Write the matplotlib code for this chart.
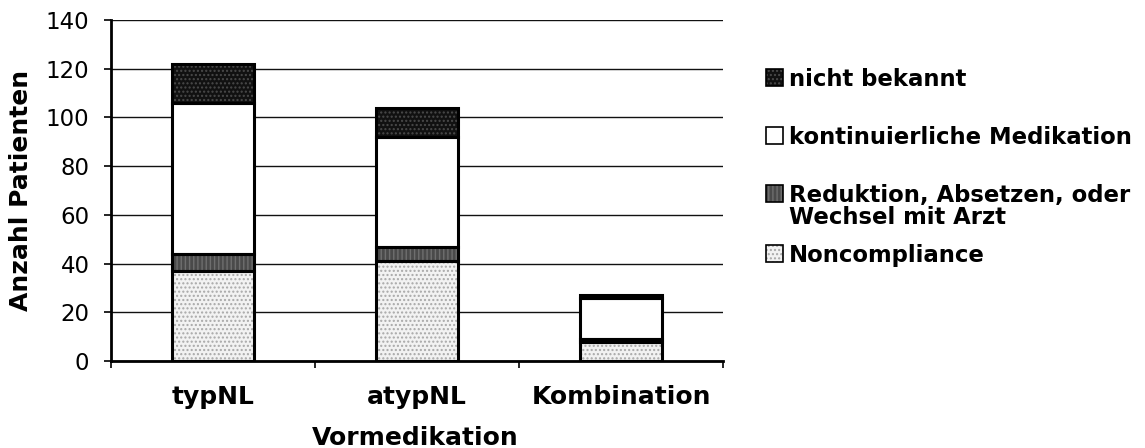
import matplotlib
matplotlib.use("Agg")
import matplotlib.pyplot as plt
from matplotlib.patches import Rectangle
import numpy as np

plt.rcParams['font.family'] = ['DejaVu Sans']

categories = ["typNL", "atypNL", "Kombination"]
noncompliance = [37, 41, 8]
reduktion = [7, 6, 1]
kontinuierlich = [62, 45, 17]
nicht_bekannt = [16, 12, 1]

series_labels = ["Noncompliance", "Reduktion, Absetzen, oder\nWechsel mit Arzt",
                 "kontinuierliche Medikation", "nicht bekannt"]
y_ticks = [0, 20, 40, 60, 80, 100, 120, 140]

series = [noncompliance, reduktion, kontinuierlich, nicht_bekannt]
faces = ["#f2f2f2", "#4a4a4a", "#ffffff", "#111111"]
hatch_cols = ["#a8a8a8", "#6e6e6e", "#ffffff", "#4a4a4a"]
hatches = ["....", "||||", None, "...."]

W, H = 1145, 448
fig = plt.figure(figsize=(W / 100, H / 100), dpi=100)
ax = fig.add_axes([111 / W, 1 - 361 / H, (723 - 111) / W, (361 - 20) / H])

x = np.arange(len(categories))
width = 0.40
bottom = np.zeros(len(categories))
for vals, fc, hc, ht in zip(series, faces, hatch_cols, hatches):
    vals = np.array(vals, dtype=float)
    ax.bar(x, vals, width, bottom=bottom, color=fc, edgecolor=hc, hatch=ht,
           linewidth=0, zorder=2)
    ax.bar(x, vals, width, bottom=bottom, fill=False, edgecolor="black",
           linewidth=2.2, zorder=3)
    bottom += vals

ax.set_xlim(-0.5, len(categories) - 0.5)
ax.set_ylim(0, 140)
ax.set_yticks(y_ticks)
ax.set_yticklabels([str(t) for t in y_ticks], fontsize=16.5)
ax.yaxis.grid(True, color="#111111", linewidth=1.0, zorder=0)
ax.set_axisbelow(True)

ax.set_xticks(np.arange(len(categories) + 1) - 0.5)
ax.set_xticklabels([])
ax.set_xticks(x, minor=True)
ax.set_xticklabels(categories, minor=True, fontsize=18, fontweight="bold")
ax.tick_params(axis="x", which="minor", length=0, pad=17)
ax.tick_params(axis="x", which="major", length=5, width=1.2, direction="out")
ax.tick_params(axis="y", length=5, width=1.2, direction="out", pad=10.5)

for s in ["top", "right"]:
    ax.spines[s].set_visible(False)
ax.spines["left"].set_linewidth(2)
ax.spines["bottom"].set_linewidth(2)

fig.text(21.5 / W, 1 - 190 / H, "Anzahl Patienten", fontsize=18, fontweight="bold",
         rotation=90, ha="center", va="center")
fig.text(415 / W, 1 - 445 / H, "Vormedikation", fontsize=18, fontweight="bold",
         ha="center", va="baseline")

# legend, top to bottom in stacking order; baselines in pixels from top
legend_rows = [(3, 86), (2, 144), (1, 202), (0, 262)]
sq = 17
line_step = 22
for idx, base in legend_rows:
    x0 = 766
    fig.patches.append(Rectangle((x0 / W, 1 - base / H), sq / W, sq / H,
                                 transform=fig.transFigure, facecolor=faces[idx],
                                 edgecolor=hatch_cols[idx] if hatches[idx] else "none",
                                 hatch=hatches[idx], linewidth=0))
    fig.patches.append(Rectangle((x0 / W, 1 - base / H), sq / W, sq / H,
                                 transform=fig.transFigure, fill=False,
                                 edgecolor="black", linewidth=1.2))
    for k, line in enumerate(series_labels[idx].split("\n")):
        fig.text(789 / W, 1 - (base + k * line_step) / H, line, fontsize=16.4,
                 fontweight="bold", ha="left", va="baseline")

fig.savefig("out.png", dpi=100)
